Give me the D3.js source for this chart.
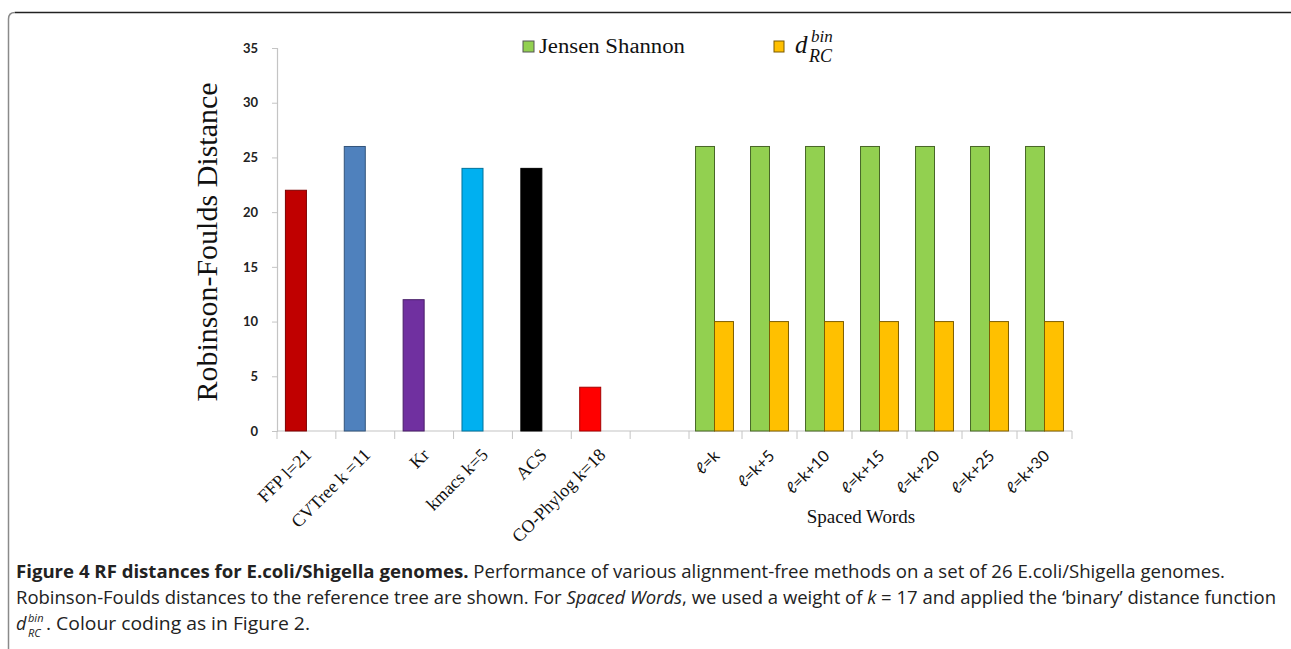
<!DOCTYPE html>
<html>
<head>
<meta charset="utf-8">
<script src="https://cdn.jsdelivr.net/npm/d3@7"></script>
<style>
  body { margin: 0; background: #fff; }
  svg { display: block; }
</style>
</head>
<body>
<div id="chart"></div>
<script>
// values
let methods = ["FFP l=21", "CVTree k =11", "Kr", "kmacs k=5", "ACS", "CO-Phylog k=18"];
let methodValues = [22, 26, 12, 24, 24, 4];
let methodColors = ["#c00000", "#4f81bd", "#7030a0", "#00b0f0", "#000000", "#ff0000"];

let spacedLabels = ["ℓ=k", "ℓ=k+5", "ℓ=k+10", "ℓ=k+15", "ℓ=k+20", "ℓ=k+25", "ℓ=k+30"];
let jensenShannon = [26, 26, 26, 26, 26, 26, 26];
let dBinRC = [10, 10, 10, 10, 10, 10, 10];
let seriesColors = ["#92d050", "#ffc000"];

let yTicks = [0, 5, 10, 15, 20, 25, 30, 35];

let width = 1291, height = 649;
let serif = "'Liberation Serif', 'DejaVu Serif', serif";

let svg = d3.select("#chart")
    .append("svg")
    .attr("width", width)
    .attr("height", height);

// frame round the figure (left and top edge only are in the picture)
svg.append("path")
    .attr("d", "M8.5,649 L8.5,19 Q8.5,12.5 15,12.5")
    .attr("fill", "none")
    .attr("stroke", "#8a8a8a")
    .attr("stroke-width", 1.5);
svg.append("path")
    .attr("d", "M15,12.5 L1291,12.5")
    .attr("fill", "none")
    .attr("stroke", "#222")
    .attr("stroke-width", 1.5);

// scales
let y = d3.scaleLinear()
    .domain([0, 35])
    .range([431, 48]);

// left part: 6 methods + one empty slot
let xLeft = d3.scaleBand()
    .domain(methods.concat([""]))
    .range([277, 689])
    .paddingInner(0.286)
    .paddingOuter(0.143);
let subLeft = d3.scaleBand()
    .domain([0, 1])
    .range([0, xLeft.bandwidth()]);

// right part: spaced words, two series
let xRight = d3.scaleBand()
    .domain(spacedLabels)
    .range([687, 1072])
    .paddingInner(0.31)
    .paddingOuter(0.155);
let subRight = d3.scaleBand()
    .domain([0, 1])
    .range([0, xRight.bandwidth()]);

// y axis
let yAxis = svg.append("g")
    .attr("transform", "translate(277,0)")
    .call(d3.axisLeft(y).tickValues(yTicks).tickSize(5).tickPadding(14));
yAxis.select(".domain").attr("stroke", "#c4c4c4").attr("stroke-width", 1.2);
yAxis.selectAll(".tick line").attr("stroke", "#c4c4c4");
yAxis.selectAll(".tick text")
    .attr("fill", "#222")
    .style("font-family", "Lato, 'Open Sans', sans-serif")
    .style("font-weight", "bold")
    .style("font-size", "13px");

svg.append("text")
    .attr("transform", "translate(217,242) rotate(-90)")
    .style("text-anchor", "middle")
    .style("font-family", serif)
    .style("font-size", "30px")
    .attr("fill", "#111")
    .text("Robinson-Foulds Distance");

// x axis line + ticks at category borders
svg.append("line")
    .attr("x1", 277).attr("x2", 1072)
    .attr("y1", y(0)).attr("y2", y(0))
    .attr("stroke", "#c4c4c4").attr("stroke-width", 1.2);

let leftStep = xLeft.step(), rightStep = xRight.step();
let tickXs = d3.range(8).map(i => 277 + i * leftStep)
    .concat(d3.range(1, 8).map(i => 687 + i * rightStep));
svg.append("g").selectAll("line")
    .data(tickXs)
    .enter()
    .append("line")
    .attr("x1", d => d).attr("x2", d => d)
    .attr("y1", y(0)).attr("y2", y(0) + 8)
    .attr("stroke", "#c4c4c4");

// method bars
svg.append("g").selectAll("rect")
    .data(methods)
    .enter()
    .append("rect")
    .attr("x", d => xLeft(d) + subLeft(0))
    .attr("y", (d, i) => y(methodValues[i]))
    .attr("width", subLeft.bandwidth())
    .attr("height", (d, i) => y(0) - y(methodValues[i]))
    .attr("fill", (d, i) => methodColors[i])
    .attr("stroke", (d, i) => d3.color(methodColors[i]).darker(1.2))
    .attr("stroke-width", 1);

// spaced words bars
let seriesData = [jensenShannon, dBinRC];
seriesData.forEach(function(vals, s) {
    svg.append("g").selectAll("rect")
        .data(spacedLabels)
        .enter()
        .append("rect")
        .attr("x", d => xRight(d) + subRight(s))
        .attr("y", (d, i) => y(vals[i]))
        .attr("width", subRight.bandwidth())
        .attr("height", (d, i) => y(0) - y(vals[i]))
        .attr("fill", seriesColors[s])
        .attr("stroke", d3.color(seriesColors[s]).darker(2))
        .attr("stroke-width", 1);
});

// category labels, rotated
svg.append("g").selectAll("text")
    .data(methods)
    .enter()
    .append("text")
    .attr("transform", d => "translate(" + (xLeft(d) + xLeft.bandwidth() / 2 + 6) + "," + (y(0) + 25) + ") rotate(-45)")
    .style("text-anchor", "end")
    .style("font-family", serif)
    .style("font-size", "18px")
    .attr("fill", "#111")
    .text(d => d);

svg.append("g").selectAll("text")
    .data(spacedLabels)
    .enter()
    .append("text")
    .attr("transform", d => "translate(" + (xRight(d) + xRight.bandwidth() / 2 + 6) + "," + (y(0) + 26) + ") rotate(-45)")
    .style("text-anchor", "end")
    .style("font-family", "Lato, 'Open Sans', sans-serif")
    .style("font-size", "16px")
    .attr("fill", "#111")
    .text(d => d);

svg.append("text")
    .attr("x", 861).attr("y", 523)
    .style("text-anchor", "middle")
    .style("font-family", serif)
    .style("font-size", "19px")
    .attr("fill", "#111")
    .text("Spaced Words");

// legend
let legend = svg.append("g");
legend.append("rect")
    .attr("x", 523).attr("y", 41).attr("width", 11).attr("height", 11)
    .attr("fill", seriesColors[0]).attr("stroke", "#555").attr("stroke-width", 1);
legend.append("text")
    .attr("x", 539).attr("y", 53)
    .attr("textLength", 146).attr("lengthAdjust", "spacingAndGlyphs")
    .style("font-family", serif)
    .style("font-size", "20px")
    .attr("fill", "#111")
    .text("Jensen Shannon");
legend.append("rect")
    .attr("x", 774).attr("y", 41).attr("width", 10).attr("height", 11)
    .attr("fill", seriesColors[1]).attr("stroke", "#7a5a00").attr("stroke-width", 1);
legend.append("text")
    .attr("x", 795).attr("y", 53)
    .style("font-family", serif)
    .style("font-style", "italic")
    .style("font-size", "25px")
    .attr("fill", "#111")
    .text("d");
legend.append("text")
    .attr("x", 811).attr("y", 42)
    .style("font-family", serif)
    .style("font-style", "italic").style("font-size", "17px")
    .attr("fill", "#111")
    .text("bin");
legend.append("text")
    .attr("x", 809).attr("y", 62)
    .style("font-family", serif)
    .style("font-style", "italic").style("font-size", "18px")
    .attr("fill", "#111")
    .text("RC");

// caption
let capFont = "'Open Sans', 'Noto Sans', sans-serif";
let cap1 = svg.append("text")
    .attr("x", 16).attr("y", 578)
    .attr("textLength", 1209).attr("lengthAdjust", "spacingAndGlyphs")
    .style("font-family", capFont).style("font-size", "18px").attr("fill", "#222");
cap1.append("tspan").style("font-weight", "bold").text("Figure 4 RF distances for E.coli/Shigella genomes.");
cap1.append("tspan").text(" Performance of various alignment-free methods on a set of 26 E.coli/Shigella genomes.");

let cap2 = svg.append("text")
    .attr("x", 16).attr("y", 604)
    .attr("textLength", 1260).attr("lengthAdjust", "spacingAndGlyphs")
    .style("font-family", capFont).style("font-size", "18px").attr("fill", "#222");
cap2.append("tspan").text("Robinson-Foulds distances to the reference tree are shown. For ");
cap2.append("tspan").style("font-style", "italic").text("Spaced Words");
cap2.append("tspan").text(", we used a weight of ");
cap2.append("tspan").style("font-style", "italic").text("k");
cap2.append("tspan").text(" = 17 and applied the \u2018binary\u2019 distance function");

let cap3 = svg.append("g").style("font-family", capFont).attr("fill", "#222");
cap3.append("text").attr("x", 16).attr("y", 630)
    .style("font-size", "18px").style("font-style", "italic").text("d");
cap3.append("text").attr("x", 28).attr("y", 622)
    .style("font-size", "11px").style("font-style", "italic").text("bin");
cap3.append("text").attr("x", 28).attr("y", 637)
    .style("font-size", "11px").style("font-style", "italic").text("RC");
cap3.append("text").attr("x", 46).attr("y", 630)
    .attr("textLength", 264).attr("lengthAdjust", "spacingAndGlyphs")
    .style("font-size", "18px").text(". Colour coding as in Figure 2.");
</script>
</body>
</html>
